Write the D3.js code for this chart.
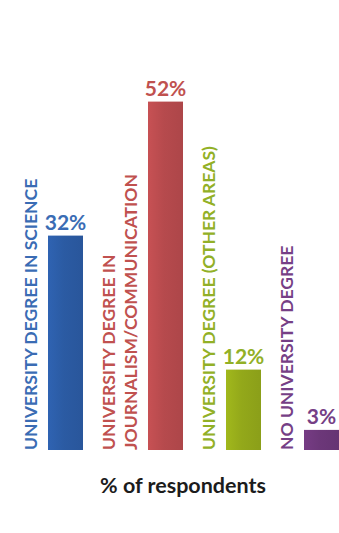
<!DOCTYPE html>
<html>
<head>
<meta charset="utf-8">
<script src="https://cdn.jsdelivr.net/npm/d3@7"></script>
<style>
  html, body { margin: 0; padding: 0; background: #ffffff; }
  svg { display: block; }
  text { font-family: Lato, "Open Sans", sans-serif; font-weight: 700; }
</style>
</head>
<body>
<svg id="chart" width="339" height="533"></svg>
<script>
// Highest level of education of respondents (% of respondents)
const categories = [
  "UNIVERSITY DEGREE IN SCIENCE",
  "UNIVERSITY DEGREE IN JOURNALISM/COMMUNICATION",
  "UNIVERSITY DEGREE (OTHER AREAS)",
  "NO UNIVERSITY DEGREE"
];
const labelLines = [
  ["UNIVERSITY DEGREE IN SCIENCE"],
  ["UNIVERSITY DEGREE IN", "JOURNALISM/COMMUNICATION"],
  ["UNIVERSITY DEGREE (OTHER AREAS)"],
  ["NO UNIVERSITY DEGREE"]
];
const values = [32, 52, 12, 3];
const valueLabels = ["32%", "52%", "12%", "3%"];
const barColors = ["#2b5ba3", "#b64a4d", "#93a81a", "#6c3779"];
const textColors = ["#3a6cb4", "#c0514f", "#92b026", "#763f86"];
const axisTitle = "% of respondents";

const svg = d3.select("#chart");

// Layout: each group is its rotated label (one or more lines) followed by its bar
const baseline = 450;
const barW = 35;
const capH = 12;
const lineH = 22;
const labelGap = 11;
const groupGap = 20;

const barX = [];
const labelX = [];
let cursor = 25;
labelLines.forEach(lines => {
  const xs = lines.map((_, i) => cursor + capH + i * lineH);
  labelX.push(xs);
  const bx = xs[xs.length - 1] + labelGap;
  barX.push(bx);
  cursor = bx + barW + groupGap;
});

const x = d3.scaleOrdinal().domain(categories).range(barX);
const y = d3.scaleLinear().domain([0, 52]).range([baseline, 101.6]);

// Subtle horizontal shading on each bar
const defs = svg.append("defs");
barColors.forEach((c, i) => {
  const g = defs.append("linearGradient")
    .attr("id", "grad" + i)
    .attr("x1", "0%").attr("x2", "100%").attr("y1", "0%").attr("y2", "0%");
  g.append("stop").attr("offset", "0%").attr("stop-color", d3.color(c).brighter(0.25));
  g.append("stop").attr("offset", "45%").attr("stop-color", c);
  g.append("stop").attr("offset", "100%").attr("stop-color", d3.color(c).darker(0.15));
});

const data = categories.map((c, i) => ({ c, v: values[i], i }));

svg.append("g").selectAll("rect")
  .data(data)
  .join("rect")
  .attr("x", d => x(d.c))
  .attr("y", d => y(d.v))
  .attr("width", barW)
  .attr("height", d => y(0) - y(d.v))
  .attr("fill", d => `url(#grad${d.i})`);

// Value labels above bars
svg.append("g").selectAll("text")
  .data(data)
  .join("text")
  .attr("x", d => x(d.c) + barW / 2)
  .attr("y", d => y(d.v) - 6)
  .attr("text-anchor", "middle")
  .attr("font-size", 21)
  .attr("fill", d => textColors[d.i])
  .text(d => valueLabels[d.i]);

// Rotated category labels, reading bottom to top
const lab = svg.append("g");
data.forEach(d => {
  labelLines[d.i].forEach((line, j) => {
    lab.append("text")
      .attr("transform", `translate(${labelX[d.i][j]},${baseline}) rotate(-90)`)
      .attr("font-size", 17.5)
      .attr("fill", textColors[d.i])
      .text(line);
  });
});

// Axis title
svg.append("text")
  .attr("x", 183)
  .attr("y", 493)
  .attr("text-anchor", "middle")
  .attr("font-size", 21.5)
  .attr("fill", "#1c1c1c")
  .text(axisTitle);
</script>
</body>
</html>
